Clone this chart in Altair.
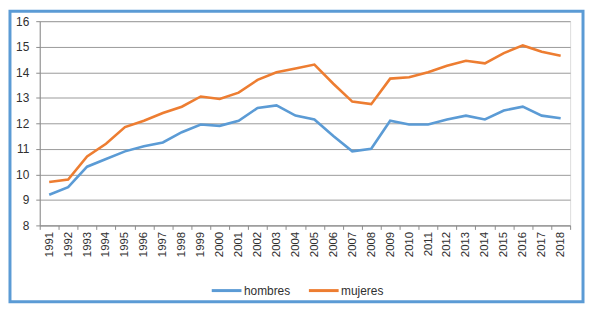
import altair as alt
import pandas as pd

years = [str(y) for y in range(1991, 2019)]
hombres = [9.2, 9.5, 10.3, 10.6, 10.9, 11.1, 11.25, 11.65, 11.95, 11.9,
           12.1, 12.6, 12.7, 12.3, 12.15, 11.5, 10.9, 11.0, 12.1, 11.95,
           11.95, 12.15, 12.3, 12.15, 12.5, 12.65, 12.3, 12.2]
mujeres = [9.7, 9.8, 10.7, 11.2, 11.85, 12.1, 12.4, 12.65, 13.05, 12.95,
           13.2, 13.7, 14.0, 14.15, 14.3, 13.55, 12.85, 12.75, 13.75, 13.8,
           14.0, 14.25, 14.45, 14.35, 14.75, 15.05, 14.8, 14.65]
series = ["hombres", "mujeres"]
colors = ["#5B9BD5", "#ED7D31"]
y_ticks = [8, 9, 10, 11, 12, 13, 14, 15, 16]

rows = []
for name, vals in zip(series, [hombres, mujeres]):
    for y, v in zip(years, vals):
        rows.append({"year": y, "value": v, "serie": name})
df = pd.DataFrame(rows)

lines = alt.Chart(df).mark_line(strokeWidth=2.6).encode(
    x=alt.X("year:N", sort=years, title=None,
            scale=alt.Scale(type="band", paddingInner=0, paddingOuter=0),
            axis=alt.Axis(labelAngle=-90, tickBand="extent", tickSize=4,
                          labelPadding=2, grid=False, domainColor="#8c8c8c",
                          tickColor="#8c8c8c", labelFontSize=11.5,
                          labelColor="#303030")),
    y=alt.Y("value:Q", title=None,
            scale=alt.Scale(domain=[8, 16], nice=False, zero=False),
            axis=alt.Axis(values=y_ticks, tickSize=4, labelPadding=7,
                          domainColor="#8c8c8c", tickColor="#8c8c8c",
                          gridColor="#9a9a9a", gridWidth=1,
                          labelFontSize=12, labelColor="#303030")),
    color=alt.Color("serie:N", scale=alt.Scale(domain=series, range=colors),
                    legend=alt.Legend(title=None, orient="none", legendX=172,
                                      legendY=255, direction="horizontal",
                                      symbolType="stroke", symbolSize=900,
                                      symbolStrokeWidth=3, labelFontSize=12,
                                      labelColor="#303030", columnPadding=12,
                                      labelOffset=1)),
)

border = alt.Chart(pd.DataFrame({"a": [0]})).mark_rect(
    filled=False, stroke="#5B9BD5", strokeWidth=3
).encode(x=alt.value(-30), x2=alt.value(548), y=alt.value(-10), y2=alt.value(283))

chart = alt.layer(lines, border).properties(
    width=535, height=206,
    autosize=alt.AutoSizeParams(type="none"),
    padding={"left": 32, "top": 12, "right": 15, "bottom": 80},
).configure_view(stroke=None).configure(
    font="Liberation Sans", background="white"
)

chart.save("out.html", embed_options={"renderer": "svg", "actions": False})
